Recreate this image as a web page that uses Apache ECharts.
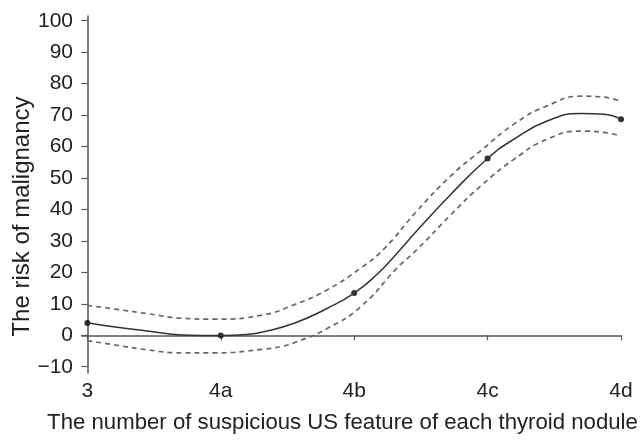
<!DOCTYPE html>
<html>
<head>
<meta charset="utf-8">
<script src="https://cdn.jsdelivr.net/npm/echarts@6/dist/echarts.min.js"></script>
<style>html,body{margin:0;padding:0;background:#fff}#c{width:640px;height:444px}</style>
</head>
<body>
<div id="c"></div>
<script>
// Category labels on the x axis (positions 0..4)
var categories = ['3', '4a', '4b', '4c', '4d'];
var yTicks = [-10, 0, 10, 20, 30, 40, 50, 60, 70, 80, 90, 100];
// Observed points (category index, risk)
var observedX = [0, 1, 2, 3, 4];
var observedY = [3.9, -0.1, 13.4, 56.2, 68.7];
// Fitted curve
var fitX = [0, 0.21, 0.46, 0.71, 1.0, 1.21, 1.31, 1.55, 1.80, 2.0, 2.17, 2.32, 2.47, 2.72, 3.0, 3.2, 3.45, 3.7, 3.87, 4.0];
var fitY = [4.0, 2.6, 1.3, 0.1, -0.1, 0.3, 1.0, 3.8, 8.6, 13.4, 19.3, 26.0, 33.2, 44.6, 56.2, 62.4, 68.2, 70.5, 70.3, 68.7];
// Upper confidence band
var upperX = [0, 0.21, 0.46, 0.71, 0.96, 1.31, 1.55, 1.80, 2.05, 2.22, 2.47, 2.72, 2.95, 3.2, 3.45, 3.7, 3.87, 4.0];
var upperY = [9.5, 8.3, 6.8, 5.4, 5.1, 6.4, 9.7, 14.5, 21.4, 27.3, 39.5, 50.5, 58.7, 67.2, 73.0, 76.0, 75.7, 74.3];
// Lower confidence band
var lowerX = [0, 0.21, 0.46, 0.71, 0.96, 1.31, 1.45, 1.55, 1.80, 2.05, 2.32, 2.47, 2.72, 2.95, 3.2, 3.45, 3.7, 3.87, 4.0];
var lowerY = [-1.7, -3.1, -4.7, -5.6, -5.6, -4.5, -3.6, -2.4, 2.2, 9.1, 21.3, 27.2, 38.1, 47.5, 56.0, 62.4, 64.9, 64.5, 63.3];

function zip(a, b) { return a.map(function (v, i) { return [v, b[i]]; }); }

var chart = echarts.init(document.getElementById('c'), null, { renderer: 'canvas' });
var axisColor = '#555';
var font = 'Liberation Sans, Arial, sans-serif';
chart.setOption({
  animation: false,
  grid: { left: 82, right: 19, top: 16, bottom: 71, containLabel: false, outerBoundsMode: 'none' },
  xAxis: {
    type: 'value', min: -0.04, max: 4.0,
    name: 'The number of suspicious US feature of each thyroid nodule',
    nameLocation: 'middle', nameGap: 39,
    nameTextStyle: { fontFamily: font, fontSize: 22.2, color: '#222', padding: [0, 18, 0, 0] },
    axisLine: { show: true, lineStyle: { color: axisColor, width: 1.5 } },
    axisTick: { show: true, length: 5, customValues: observedX, lineStyle: { color: axisColor, width: 1.2 } },
    axisLabel: { customValues: observedX, margin: 8, fontFamily: font, fontSize: 21, color: '#222',
      formatter: function (v) { return categories[Math.round(v)]; } },
    splitLine: { show: false }
  },
  yAxis: {
    type: 'value', min: -12, max: 101.5,
    name: 'The risk of malignancy', nameLocation: 'middle', nameGap: 48, nameRotate: 90,
    nameMoveOverlap: false,
    nameTextStyle: { fontFamily: font, fontSize: 24, color: '#222', padding: [0, 44, 0, 0] },
    axisLine: { show: true, lineStyle: { color: axisColor, width: 1.5 } },
    axisTick: { show: true, length: 6, customValues: yTicks, lineStyle: { color: axisColor, width: 1.2 } },
    axisLabel: { customValues: yTicks, margin: 9, fontFamily: font, fontSize: 21, color: '#222',
      formatter: function (v) { return v < 0 ? '\u2212' + Math.abs(v) : String(v); } },
    splitLine: { show: false }
  },
  series: [
    { type: 'line', data: zip(upperX, upperY), smooth: 0.5, symbol: 'none',
      lineStyle: { color: '#666', width: 1.7, type: [5, 4] } },
    { type: 'line', data: zip(lowerX, lowerY), smooth: 0.5, symbol: 'none',
      lineStyle: { color: '#666', width: 1.7, type: [5, 4] } },
    { type: 'line', data: zip(fitX, fitY), smooth: 0.5, symbol: 'none',
      lineStyle: { color: '#333', width: 1.5 } },
    { type: 'scatter', data: zip(observedX, observedY), symbolSize: 6,
      itemStyle: { color: '#000' } }
  ]
});
</script>
</body>
</html>
